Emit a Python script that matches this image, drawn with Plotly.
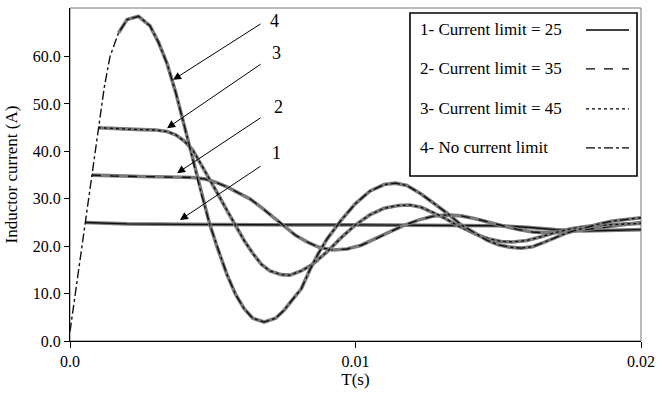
import plotly.graph_objects as go

# ---------------- data ----------------
t_nolimit = [0, 0.0002, 0.0004, 0.0006, 0.0008, 0.001, 0.0012, 0.0014, 0.0017, 0.002,
             0.0024, 0.0028, 0.0031, 0.0034, 0.0037, 0.0040, 0.0043, 0.0046, 0.0049, 0.0052,
             0.0055, 0.0058, 0.0061, 0.0064, 0.0068, 0.0072, 0.0075, 0.0078, 0.0081, 0.0084,
             0.0087, 0.0090, 0.0095, 0.0100, 0.0105, 0.0110, 0.0114, 0.0118, 0.0123, 0.0128,
             0.0132, 0.0137, 0.0141, 0.0146, 0.0150, 0.0154, 0.0158, 0.0162, 0.0166, 0.0170,
             0.0174, 0.0178, 0.0182, 0.0186, 0.0190, 0.0195, 0.0200]
i_nolimit = [2.0, 10.5, 19.5, 28.0, 36.0, 45.3, 53.5, 60.0, 65.0, 67.8,
             68.5, 66.5, 63.0, 58.5, 52.5, 45.5, 38.0, 31.0, 24.5, 19.0,
             14.0, 9.8, 6.8, 4.8, 4.0, 4.8, 6.5, 8.8, 11.0, 15.0,
             18.5, 21.5, 25.5, 29.0, 31.6, 33.0, 33.3, 32.8, 31.0, 28.8,
             27.0, 24.5, 23.0, 21.3, 20.3, 19.8, 19.6, 19.9, 20.8, 21.8,
             22.8, 23.5, 24.2, 24.8, 25.3, 25.7, 26.0]

t_lim45 = [0.00098, 0.0015, 0.002, 0.0025, 0.003, 0.0034, 0.0037, 0.0040, 0.0043, 0.0046,
           0.0049, 0.0052, 0.0055, 0.0058, 0.0061, 0.0064, 0.0067, 0.0070, 0.0074, 0.0077,
           0.0081, 0.0085, 0.0090, 0.0095, 0.0100, 0.0105, 0.0110, 0.0115, 0.0119, 0.0123,
           0.0127, 0.0131, 0.0135, 0.0139, 0.0143, 0.0147, 0.0151, 0.0155, 0.0160, 0.0165,
           0.0170, 0.0175, 0.0180, 0.0185, 0.0190, 0.0195, 0.0200]
i_lim45 = [45.0, 44.8, 44.7, 44.6, 44.5, 44.2, 43.5, 42.2, 40.3, 37.2,
           34.0, 30.8, 27.5, 24.3, 21.2, 18.5, 16.2, 14.8, 14.0, 13.9,
           14.8, 16.2, 18.8, 21.8, 24.5, 26.6, 28.0, 28.6, 28.7, 28.2,
           27.2, 26.0, 24.6, 23.4, 22.3, 21.5, 21.0, 20.9, 21.2, 22.0,
           22.9, 23.6, 24.1, 24.4, 24.6, 24.7, 24.8]

t_lim35 = [0.00077, 0.0015, 0.0025, 0.0035, 0.0043, 0.0047, 0.0051, 0.0055, 0.0059, 0.0063,
           0.0067, 0.0071, 0.0075, 0.0079, 0.0083, 0.0087, 0.0092, 0.0097, 0.0102, 0.0107,
           0.0112, 0.0117, 0.0122, 0.0127, 0.0132, 0.0137, 0.0142, 0.0147, 0.0152, 0.0157,
           0.0162, 0.0167, 0.0172, 0.0177, 0.0182, 0.0187, 0.0192, 0.0196, 0.0200]
i_lim35 = [35.0, 34.8, 34.7, 34.6, 34.5, 34.2, 33.5, 32.5, 31.3, 30.0,
           28.2, 26.2, 24.2, 22.3, 20.9, 19.8, 19.2, 19.4, 20.2, 21.5,
           23.0, 24.4, 25.5, 26.3, 26.6, 26.4, 25.8, 25.0, 24.2, 23.5,
           23.0, 22.8, 22.9, 23.2, 23.6, 24.0, 24.4, 24.7, 25.0]

t_lim25 = [0.00053, 0.002, 0.004, 0.006, 0.008, 0.010, 0.012, 0.014, 0.015, 0.016,
           0.017, 0.018, 0.019, 0.020]
i_lim25 = [25.0, 24.7, 24.6, 24.5, 24.5, 24.5, 24.4, 24.3, 24.3, 24.0,
           23.5, 23.2, 23.3, 23.5]

legend_labels = ["1- Current limit = 25", "2- Current limit = 35",
                 "3- Current limit = 45", "4- No current limit"]
curve_tags = ["1", "2", "3", "4"]
# arrow tips (on the curves) and tails, in data units
arrow_tip_t = [0.00385, 0.00375, 0.00340, 0.00361]
arrow_tip_i = [25.5, 35.4, 44.9, 55.1]
arrow_tail_t = [0.00673, 0.00673, 0.00673, 0.00673]
arrow_tail_i = [37.1, 47.3, 58.6, 67.1]
tag_t = [0.00725, 0.00729, 0.00725, 0.00718]
tag_i = [39.7, 49.4, 60.8, 67.5]

x_tickvals = [0, 0.01, 0.02]
x_ticktext = ["0.0", "0.01", "0.02"]
y_tickvals = [0, 10, 20, 30, 40, 50, 60]
y_ticktext = ["0.0", "10.0", "20.0", "30.0", "40.0", "50.0", "60.0"]

# ---------------- figure ----------------
FONT = "Liberation Serif"
series = [(t_lim25, i_lim25, "solid"), (t_lim35, i_lim35, "dash"),
          (t_lim45, i_lim45, "dot"), (t_nolimit, i_nolimit, "dashdot")]
# index from which the ripple band is visible (the no-limit ramp is a thin line)
band_start = [0, 0, 0, 8]

fig = go.Figure()
for k, ((tt, ii, dash), name) in enumerate(zip(series, legend_labels)):
    s = band_start[k]
    fig.add_trace(go.Scatter(x=tt[s:], y=ii[s:], mode="lines",
                             line=dict(color="#7a7a7a", width=3.6),
                             showlegend=False, hoverinfo="skip"))
    fig.add_trace(go.Scatter(x=tt, y=ii, mode="lines", name=name,
                             line=dict(color="#111111", width=1.4, dash=dash),
                             showlegend=False))

# arrows and tags
for k in range(4):
    fig.add_annotation(x=arrow_tip_t[k], y=arrow_tip_i[k], ax=arrow_tail_t[k], ay=arrow_tail_i[k],
                       xref="x", yref="y", axref="x", ayref="y", text="", showarrow=True,
                       arrowhead=2, arrowsize=1.6, arrowwidth=1, arrowcolor="black")
    fig.add_annotation(x=tag_t[k], y=tag_i[k], xref="x", yref="y", text=curve_tags[k],
                       showarrow=False, font=dict(family=FONT, size=18, color="black"))

# custom legend box (text on the left, line sample on the right)
lx0, lx1, ly0, ly1 = 0.5954, 0.993, 0.4955, 0.985
fig.add_shape(type="rect", xref="paper", yref="paper", x0=lx0, x1=lx1, y0=ly0, y1=ly1,
              line=dict(color="black", width=1.6), fillcolor="white", layer="above")
row_y = [0.934, 0.817, 0.697, 0.580]
for k in range(4):
    fig.add_annotation(x=0.6095, y=row_y[k], xref="paper", yref="paper", text=legend_labels[k],
                       showarrow=False, xanchor="left", yanchor="middle",
                       font=dict(family=FONT, size=17, color="black"))
    fig.add_shape(type="line", xref="paper", yref="paper", x0=0.9037, x1=0.979,
                  y0=row_y[k], y1=row_y[k], layer="above",
                  line=dict(color="black", width=1.3, dash=series[k][2]))

# grey plot frame
fig.add_shape(type="rect", xref="paper", yref="paper", x0=0, x1=1, y0=0, y1=1,
              line=dict(color="#777777", width=1), layer="below")

fig.update_layout(
    width=662, height=395,
    margin=dict(l=70, r=21, t=8, b=54),
    paper_bgcolor="white", plot_bgcolor="white",
    font=dict(family=FONT, size=16, color="black"),
    showlegend=False,
)
fig.update_xaxes(range=[0, 0.02], tickvals=x_tickvals, ticktext=x_ticktext,
                 showgrid=False, zeroline=False, showline=True, linecolor="black", linewidth=1,
                 ticks="outside", ticklen=6, tickcolor="black",
                 tickfont=dict(family=FONT, size=16),
                 title=dict(text="T(s)", font=dict(family=FONT, size=17), standoff=2))
fig.update_yaxes(range=[0, 70.25], tickvals=y_tickvals, ticktext=y_ticktext,
                 showgrid=False, zeroline=False, showline=True, linecolor="black", linewidth=1,
                 ticks="outside", ticklen=5, tickcolor="black",
                 tickfont=dict(family=FONT, size=16),
                 title=dict(text="Inductor current (A)", font=dict(family=FONT, size=17), standoff=10))

fig.write_html("out.html")
